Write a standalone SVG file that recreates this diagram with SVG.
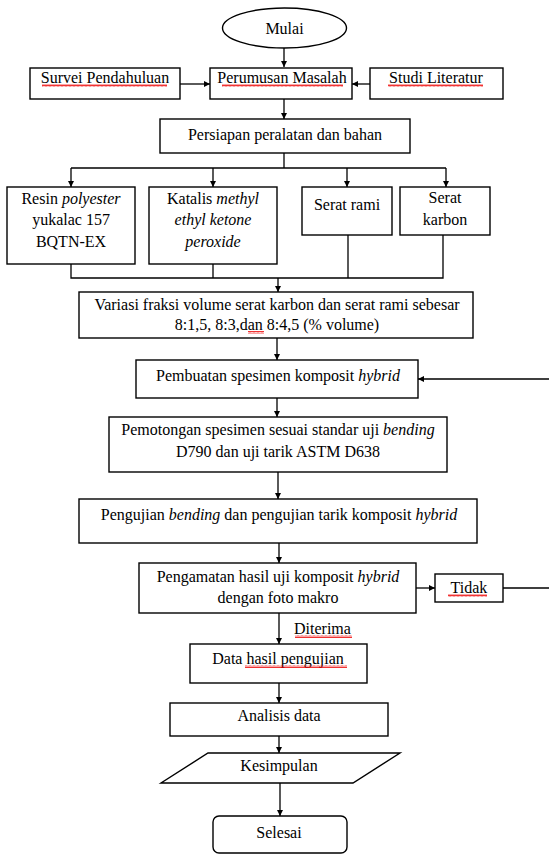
<svg xmlns="http://www.w3.org/2000/svg" width="549" height="854" viewBox="0 0 549 854">
<style>
.b{fill:#fff;stroke:#000;stroke-width:1.4}
.t{font-family:"Liberation Serif","DejaVu Serif","Times New Roman",serif;font-size:16px;fill:#000;text-anchor:middle}
.l{fill:none;stroke:#000;stroke-width:1.3}
.sq{fill:url(#wave)}
</style>
<defs>
<marker id="ah" viewBox="0 0 10 10" refX="10" refY="5" markerWidth="6" markerHeight="6" orient="auto" markerUnits="userSpaceOnUse">
<path d="M0,0 L10,5 L0,10 z" fill="#000"/>
</marker>
<pattern id="wave" width="4" height="3" patternUnits="userSpaceOnUse">
<path d="M0,2.5 L1,0.5 L2,2.5 L3,0.5 L4,2.5" fill="none" stroke="#e00" stroke-width="0.8"/>
</pattern>
</defs>
<rect width="549" height="854" fill="#fff"/>

<g id="connectors">
<path class="l" d="M284,48 V67" marker-end="url(#ah)"/>
<path class="l" d="M180,84 H210" marker-end="url(#ah)"/>
<path class="l" d="M370,84 H352" marker-end="url(#ah)"/>
<path class="l" d="M284,99 V119" marker-end="url(#ah)"/>
<path class="l" d="M284,153 V168"/>
<path class="l" d="M71,168 H446"/>
<path class="l" d="M71,168 V187" marker-end="url(#ah)"/>
<path class="l" d="M213,168 V187" marker-end="url(#ah)"/>
<path class="l" d="M347,168 V187" marker-end="url(#ah)"/>
<path class="l" d="M446,168 V187" marker-end="url(#ah)"/>
<path class="l" d="M71,264 V278 H443 V235"/>
<path class="l" d="M213,264 V278"/>
<path class="l" d="M348,235 V278"/>
<path class="l" d="M278,278 V292" marker-end="url(#ah)"/>
<path class="l" d="M277,338 V360" marker-end="url(#ah)"/>
<path class="l" d="M277,398 V417" marker-end="url(#ah)"/>
<path class="l" d="M278,472 V499" marker-end="url(#ah)"/>
<path class="l" d="M279,535 V563" marker-end="url(#ah)"/>
<path class="l" d="M416,588 H435" marker-end="url(#ah)"/>
<path class="l" d="M503,588 H551 V379 H418" marker-end="url(#ah)"/>
<path class="l" d="M279,613 V644" marker-end="url(#ah)"/>
<path class="l" d="M279,683 V703" marker-end="url(#ah)"/>
<path class="l" d="M279,736 V753" marker-end="url(#ah)"/>
<path class="l" d="M280,783 V816" marker-end="url(#ah)"/>
<text class="t" x="294" y="634" style="text-anchor:start">Diterima</text>
<rect class="sq" x="295" y="635" width="57" height="3"/>
</g>

<g id="mulai">
<ellipse class="b" cx="284.5" cy="28" rx="62" ry="20"/>
<text class="t" x="284.5" y="34">Mulai</text>
</g>

<g id="survei">
<rect class="b" x="30" y="68" width="150" height="31"/>
<text class="t" x="105" y="83">Survei Pendahuluan</text>
<rect class="sq" x="42" y="84" width="125" height="3"/>
</g>

<g id="perumusan">
<rect class="b" x="210" y="68" width="142" height="31"/>
<text class="t" x="282" y="83">Perumusan Masalah</text>
<rect class="sq" x="222" y="84" width="121" height="3"/>
</g>

<g id="studi">
<rect class="b" x="370" y="68" width="133" height="31"/>
<text class="t" x="436" y="83">Studi Literatur</text>
<rect class="sq" x="388" y="84" width="95" height="3"/>
</g>

<g id="persiapan">
<rect class="b" x="160" y="119" width="250" height="34"/>
<text class="t" x="285" y="140">Persiapan peralatan dan bahan</text>
</g>

<g id="resin">
<rect class="b" x="7" y="187" width="128" height="77"/>
<text class="t" x="71" y="204">Resin <tspan font-style="italic">polyester</tspan></text>
<text class="t" x="71" y="225">yukalac 157</text>
<text class="t" x="71" y="247">BQTN-EX</text>
</g>

<g id="katalis">
<rect class="b" x="149" y="187" width="128" height="77"/>
<text class="t" x="213" y="204">Katalis <tspan font-style="italic">methyl</tspan></text>
<text class="t" x="213" y="225" font-style="italic">ethyl ketone</text>
<text class="t" x="213" y="247" font-style="italic">peroxide</text>
</g>

<g id="rami">
<rect class="b" x="302" y="187" width="90" height="48"/>
<text class="t" x="347" y="210">Serat rami</text>
</g>

<g id="karbon">
<rect class="b" x="400" y="187" width="90" height="48"/>
<text class="t" x="445" y="203">Serat</text>
<text class="t" x="445" y="225">karbon</text>
</g>

<g id="variasi">
<rect class="b" x="79" y="292" width="394" height="46"/>
<text class="t" x="277" y="310">Variasi fraksi volume serat karbon dan serat rami sebesar</text>
<text class="t" x="277" y="330">8:1,5, 8:3,dan 8:4,5 (% volume)</text>
<rect class="sq" x="248" y="331" width="16" height="3"/>
</g>

<g id="pembuatan">
<rect class="b" x="136" y="360" width="282" height="38"/>
<text class="t" x="278" y="381">Pembuatan spesimen komposit <tspan font-style="italic">hybrid</tspan></text>
</g>

<g id="pemotongan">
<rect class="b" x="109" y="417" width="338" height="55"/>
<text class="t" x="278" y="435">Pemotongan spesimen sesuai standar uji <tspan font-style="italic">bending</tspan></text>
<text class="t" x="278" y="457">D790 dan uji tarik ASTM D638</text>
</g>

<g id="pengujian">
<rect class="b" x="79" y="499" width="398" height="44"/>
<text class="t" x="279" y="520">Pengujian <tspan font-style="italic">bending</tspan> dan pengujian tarik komposit <tspan font-style="italic">hybrid</tspan></text>
</g>

<g id="pengamatan">
<rect class="b" x="139" y="563" width="277" height="50"/>
<text class="t" x="278" y="582">Pengamatan hasil uji komposit <tspan font-style="italic">hybrid</tspan></text>
<text class="t" x="278" y="603">dengan foto makro</text>
</g>

<g id="tidak">
<rect class="b" x="435" y="574" width="68" height="28"/>
<text class="t" x="469" y="593">Tidak</text>
<rect class="sq" x="448" y="594" width="39" height="3"/>
</g>

<g id="data">
<rect class="b" x="190" y="644" width="177" height="39"/>
<text class="t" x="278" y="664">Data hasil pengujian</text>
<rect class="sq" x="245" y="665" width="102" height="3"/>
</g>

<g id="analisis">
<rect class="b" x="170" y="703" width="218" height="33"/>
<text class="t" x="279" y="721">Analisis data</text>
</g>

<g id="kesimpulan">
<polygon class="b" points="208,753 400,753 353,783 161,783"/>
<text class="t" x="279" y="771">Kesimpulan</text>
</g>

<g id="selesai">
<rect class="b" x="213" y="816" width="134" height="37" rx="6"/>
<text class="t" x="279" y="838">Selesai</text>
</g>
</svg>
